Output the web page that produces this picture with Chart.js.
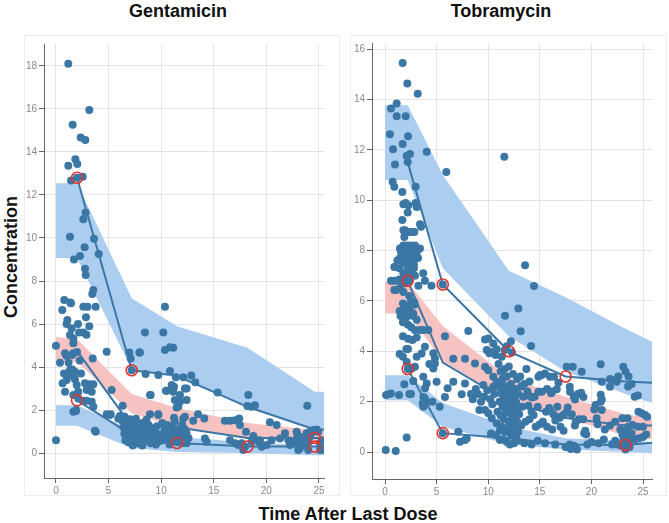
<!DOCTYPE html>
<html>
<head>
<meta charset="utf-8">
<script src="https://cdn.jsdelivr.net/npm/chart.js@4/dist/chart.umd.min.js"></script>
<style>
  html, body { margin: 0; padding: 0; background: #ffffff; }
  body { width: 669px; height: 523px; position: relative; overflow: hidden; font-family: "Liberation Sans", Arial, sans-serif; }
  .frame { position: absolute; border: 1px solid #ededed; box-sizing: border-box; }
  canvas { position: absolute; }
  .ttl { position: absolute; font-weight: bold; font-size: 18px; color: #111; text-align: center; line-height: 20px; white-space: nowrap; }
</style>
</head>
<body>
<div class="frame" style="left:24px;top:35px;width:316px;height:461px;"></div>
<div class="frame" style="left:350px;top:35px;width:317px;height:461px;"></div>
<canvas id="gent" width="316" height="461" style="left:24px;top:35px;"></canvas>
<canvas id="tobra" width="317" height="461" style="left:350px;top:35px;"></canvas>
<div class="ttl" style="left:78px;top:1px;width:200px;">Gentamicin</div>
<div class="ttl" style="left:401px;top:1px;width:200px;">Tobramycin</div>
<div class="ttl" style="left:-89px;top:247px;width:200px;transform:rotate(-90deg);">Concentration</div>
<div class="ttl" style="left:198px;top:504px;width:300px;">Time After Last Dose</div>
<script>
// ---------------- Gentamicin ----------------
const gentBandTime = [0, 2.0, 7.2, 11.5, 18.2, 24.6, 25.48];
const gentHiUpper  = [12.55, 12.55, 7.2, 5.9, 4.9, 2.85, 2.85];
const gentHiLower  = [9.07, 9.07, 3.9, 3.5, 2.15, 1.05, 1.05];
const gentMedUpper = [5.4, 5.3, 2.75, 2.1, 1.4, 1.07, 1.07];
const gentMedLower = [4.2, 4.25, 1.85, 1.2, 0.7, 0.47, 0.47];
const gentLoUpper  = [2.22, 2.22, 1.07, 0.75, 0.5, 0.35, 0.35];
const gentLoLower  = [1.27, 1.27, 0.23, 0.05, 0.0, -0.1, -0.1];

const gentLineTime = [2.0, 7.2, 11.5, 18.2, 24.6, 25.48];
const gentP95 = [12.8, 3.85, 3.6, 2.15, 1.1, 1.1];
const gentP50 = [4.75, 1.25, 1.2, 0.7, 0.7, 0.7];
const gentP05 = [2.45, 0.85, 0.47, 0.3, 0.3, 0.3];
const gentFlagged = [[2.0,12.8],[7.2,3.85],[2.0,2.45],[11.5,0.47],[18.2,0.3],[24.6,0.7],[24.6,0.3]];

const gentObs = [
 [1.17,18.1],[3.17,15.95],[1.58,15.26],[2.35,14.67],[2.79,14.56],[1.84,13.66],[1.17,13.36],[2.03,13.44],[1.43,12.67],[2.0,12.8],
 [2.54,12.85],[2.82,11.18],[2.6,10.87],[1.33,10.06],[3.61,9.97],[2.72,9.57],[2.28,9.16],[4.06,9.26],[1.71,9.0],[2.76,8.57],
 [2.82,8.28],[3.55,7.58],[3.45,7.4],[0.79,7.12],[0.6,6.65],[1.43,6.96],[1.35,7.0],[2.6,6.8],[3.0,6.8],[3.77,6.8],
 [2.85,6.31],[1.08,6.19],[1.01,6.0],[2.09,6.0],[3.17,5.9],[1.49,5.8],[2.19,5.6],[2.6,5.6],[2.9,5.5],[1.33,5.49],
 [1.65,5.33],[8.46,5.6],[10.2,5.6],[10.36,6.8],[0,4.99],[1.65,5.1],[6.97,4.67],[7.92,4.68],[4.82,4.71],[10.36,4.79],
 [10.84,4.92],[11.15,4.9],[7.1,4.4],[3.49,4.4],
 [0.38,4.2],[0.86,4.64],[1.01,4.51],[1.52,4.56],[1.65,4.64],[0.76,3.7],[0.63,3.24],[1.33,3.86],[1.55,3.89],[1.8,3.78],
 [1.24,3.63],[1.65,3.63],[2.38,3.7],[1.01,3.4],[0.86,2.85],[1.8,3.43],[1.97,3.16],[2.12,2.85],[2.76,3.24],[3.17,3.2],
 [3.55,3.2],[2.92,2.93],[3.4,2.85],[1.65,2.7],[2.12,2.54],[2.6,2.43],[2.92,2.43],[3.4,2.39],[1.65,1.92],[1.9,1.95],
 [3.7,1.04],[0,0.6],[2.0,4.7],[2.25,4.3],[3.55,2.15],[1.2,4.2],[1.9,2.0],
 [7.2,3.85],[10.84,3.81],[9.73,3.63],[8.52,3.67],[10.52,2.9],[11.15,2.96],[11.22,3.08],[11.79,2.7],[11.4,3.52],[12.1,3.52],
 [12.86,3.61],[13.24,3.29],[12.42,3.0],[11.79,2.39],[11.47,2.12],[9.0,2.7],[15.37,2.82],[18.28,2.7],[18.19,2.19],[18.6,2.15],
 [18.92,2.22],[23.89,2.2],[5.29,2.93],[6.34,2.2],[4.82,1.81],[5.2,1.81],[8.94,1.81],[9.73,1.81],[11.22,1.64],[12.1,1.61],
 [13.05,1.5],[13.5,1.81],[12.26,1.69],[14.1,1.61],[12.26,1.1],[11.8,0.92],[12.1,0.68],[12.42,0.45],[11.95,0.45],[14.16,0.68],
 [14.32,0.53],[16.06,1.5],[16.54,1.5],[17.02,1.53],[17.42,1.61],[17.49,1.3],[18.06,0.99],[18.76,0.79],[19.39,0.6],[20.34,1.43],
 [20.98,1.3],[21.77,0.92],[22.88,0.99],[22.94,0.84],[23.83,0.92],[24.14,0.99],[24.46,1.07],[24.78,1.1],[22.1,0.6],[22.9,0.5],
 [23.2,0.3],[23.7,0.37],[24.0,0.5],[23.03,0.14],[25.1,0.14],[25.3,0.6],
 [16.54,0.6],[17.02,0.45],[17.33,0.37],[17.65,0.45],[17.81,0.14],[17.97,0.29],[18.6,0.53],[19.07,0.6],[19.39,0.45],[19.55,0.29],
 [20.03,0.37],[20.5,0.6],[21.29,0.68],[22.24,0.37],[22.72,0.53],[23.19,0.76],[23.35,0.45],[23.67,0.37],[23.83,0.6],[24.14,0.76],
 [24.3,0.92],[24.62,1.07],[24.94,0.99],[23.19,0.22],[23.98,0.14],[25.1,0.45],[25.26,0.14],
 [5.92,1.61],[6.08,1.72],[5.13,1.77],[7.03,1.57],[7.5,1.5],[8.94,2.7],[9.73,1.77],[10.46,2.9],[11.0,3.16],[11.15,2.85],
 [11.3,2.47],[11.63,2.16],[12.26,3.0],[12.42,2.47],[7.98,4.67],[3.77,0.99],
 [6.3,1.5],[6.4,1.2],[6.5,0.9],[6.6,0.6],[6.7,1.35],[6.8,1.0],[6.9,0.5],[7.0,0.75],[7.1,1.15],[7.2,0.45],
 [7.3,0.9],[7.4,1.3],[7.5,0.6],[7.6,1.05],[7.7,0.8],[7.8,0.45],[7.9,1.2],[8.0,0.65],[8.1,0.95],[8.2,1.4],
 [8.3,0.5],[8.4,0.8],[8.5,1.1],[8.7,0.6],[8.8,1.3],[8.9,0.9],[9.0,0.45],[9.2,1.15],[9.3,0.7],[9.5,0.95],
 [9.6,1.25],[9.8,0.55],[9.9,0.85],[10.1,1.4],[10.2,0.6],[10.3,1.05],[10.5,0.75],[10.6,1.3],[10.8,0.5],[10.9,0.9],
 [11.0,1.2],[11.1,0.65],[11.3,1.45],[11.4,0.85],[11.5,0.5],[11.6,1.1],[11.8,0.75],[12.0,1.3],[12.2,0.55],[12.4,0.95],
 [12.6,0.7],[6.9,1.5],[7.6,1.6],[8.6,1.55],[6.5,1.7],[7.3,0.35],[8.2,0.35],[9.5,0.4],[10.8,0.4]
];

// ---------------- Tobramycin ----------------
const tobBandTime = [0, 2.2, 5.6, 12.0, 17.5, 23.3, 25.87];
const tobHiUpper  = [13.77, 13.77, 11.0, 7.2, 6.15, 4.9, 4.38];
const tobHiLower  = [10.8, 10.8, 7.3, 4.6, 3.2, 2.3, 1.95];
const tobMedUpper = [6.76, 6.76, 5.0, 2.95, 2.2, 1.5, 1.35];
const tobMedLower = [5.5, 5.5, 3.6, 2.05, 1.35, 0.65, 0.5];
const tobLoUpper  = [3.05, 3.05, 1.95, 1.0, 0.55, 0.45, 0.4];
const tobLoLower  = [2.06, 2.06, 1.0, 0.3, 0.1, 0.0, -0.05];

const tobLineTime = [2.2, 5.6, 12.0, 17.5, 23.3, 25.87];
const tobP95 = [11.5, 6.65, 4.0, 3.0, 2.8, 2.75];
const tobP50 = [6.8, 3.55, 2.0, 1.35, 1.05, 1.05];
const tobP05 = [3.3, 0.75, 0.55, 0.3, 0.28, 0.37];
const tobFlagged = [[2.2,6.8],[2.2,3.3],[5.6,6.65],[5.6,0.75],[12.0,4.0],[17.5,3.0],[23.3,0.28]];

const tobObs = [
 [1.71,15.45],[2.16,14.63],[3.17,14.23],[1.13,13.84],[0.58,13.64],[1.13,13.33],[2.0,13.33],[0.48,12.62],[2.23,12.54],[1.71,12.23],
 [0.78,12.02],[4.04,11.92],[2.1,11.75],[2.42,11.83],[2.2,11.52],[0.97,11.42],[5.94,11.12],[11.56,11.72],[0.74,10.73],[0.9,10.53],
 [2.97,10.53],[1.68,10.32],[1.78,9.84],[2.0,9.89],[2.26,9.8],[2.97,9.89],[3.07,9.73],[2.2,9.51],[1.68,9.21],[3.39,9.04],
 [3.49,8.94],[1.78,8.81],[1.94,8.81],[2.26,8.74],[2.58,8.74],[2.84,8.74],[1.87,8.54],[1.78,8.2],[2.1,8.2],[2.52,8.2],
 [2.9,8.2],[1.45,8.08],[3.39,8.08],[1.87,7.93],[2.3,7.93],[2.7,7.93],[3.07,7.93],[1.45,7.7],[1.8,7.7],[2.6,7.7],
 [2.94,7.7],[3.2,7.7],
 [1.55,7.95],[1.97,7.95],[2.3,7.8],[2.62,7.85],[2.94,7.75],[1.2,7.6],[1.7,7.55],[2.0,7.5],[2.5,7.55],[2.8,7.45],
 [0.9,7.35],[1.4,7.3],[2.2,7.3],[2.8,7.3],[1.78,7.1],[2.3,7.0],[2.6,7.1],[2.9,7.0],[3.7,7.1],[1.4,6.85],
 [1.65,6.75],[1.9,6.7],[2.07,6.85],[2.35,6.8],[0.58,6.8],[0.9,6.8],[1.23,6.8],[3.23,6.6],[3.87,6.8],[4.5,6.6],
 [5.6,6.65],[0.9,6.43],[1.07,6.43],[1.45,6.5],[1.78,6.35],[2.36,6.2],[2.52,6.0],[2.84,5.95],[1.74,5.9],[1.9,5.8],
 [2.36,5.8],[2.84,5.85],[1.42,5.6],[1.74,5.55],[2.07,5.5],[2.4,5.6],[2.74,5.5],[1.5,5.4],[2.07,5.35],[2.74,5.4],
 [3.07,5.25],[1.74,5.15],[2.23,5.05],[2.55,4.95],[2.9,4.85],[3.39,4.85],[3.71,4.85],[4.2,4.85],[1.74,4.6],[2.23,4.5],
 [2.65,4.45],[3.07,4.55],
 [1.42,3.89],[1.74,3.78],[2.07,4.09],[2.23,4.09],[2.1,3.58],[3.07,3.78],[3.55,3.91],[3.87,4.18],[2.58,3.32],[2.9,3.39],
 [2.2,3.3],[3.71,2.99],[4.04,2.72],[3.71,2.19],[3.87,2.13],[3.65,1.93],[3.71,1.8],[4.84,3.52],[4.68,3.32],[5.0,2.79],
 [4.68,3.92],[4.84,3.72],[5.81,4.6],[5.81,2.19],[6.07,2.53],[6.62,3.7],[7.75,3.7],[8.72,3.52],[6.62,2.79],[7.75,2.72],
 [8.33,2.3],[7.43,2.29],[8.07,4.81],[9.69,4.47],[10.17,3.98],[9.69,3.39],[10.01,3.25],[10.49,2.99],[10.82,2.79],[11.31,2.79],
 [9.53,2.66],[10.49,2.59],[9.14,1.67],[9.69,1.67],[10.01,1.54],[10.34,1.34],[10.82,1.14],[11.14,0.87],[10.76,0.67],[11.14,0.48],
 [7.1,0.81],[7.27,0.41],[7.75,0.48],[7.92,0.54],[10.27,0.74],[2.1,0.58],[0.07,0.08],[1.04,0.04],[0.1,2.26],[0.42,2.3],
 [0.58,2.32],[1.36,2.26],[2.36,2.3],[2.52,2.3],[1.87,2.69],[2.74,2.82],[3.88,2.53],[5.6,0.75],
 [13.57,7.42],[14.44,6.59],[11.63,5.41],[12.92,5.7],[13.15,4.8],[14.15,4.21],[10.01,4.51],[10.49,4.31],[9.85,4.05],[10.11,3.92],
 [10.82,4.08],[11.31,3.78],[11.8,4.2],[12.2,4.4],[11.6,4.05],[12.3,3.95],
 [14.86,2.99],[15.18,3.06],[15.99,2.99],[16.38,2.99],[15.7,2.5],[16.2,2.4],[16.8,2.75],[14.05,2.22],[14.22,2.17],[13.9,1.84],
 [14.2,1.6],[14.4,1.47],[15.6,1.6],[16.0,1.65],[16.3,1.5],[16.6,1.4],[16.9,1.35],[17.2,1.45],[17.6,3.39],[18.19,3.39],
 [19.06,3.19],[17.9,2.59],[18.3,2.2],[18.7,2.3],[19.0,2.35],[17.7,1.77],[18.1,1.5],[18.4,1.05],[18.5,1.2],[18.8,1.3],
 [19.2,1.3],[19.3,0.75],[19.5,0.7],[19.4,0.85],[17.7,0.21],[18.0,0.12],[18.4,0.21],[20.9,3.49],[20.9,2.27],[20.9,2.0],
 [20.4,1.87],[21.8,2.9],[22.3,2.85],[22.6,3.0],[23.09,3.39],[23.3,3.2],[23.6,3.0],[23.55,2.6],[23.9,2.7],[24.2,2.2],
 [24.5,2.25],[22.45,2.79],[21.0,2.79],[21.8,2.59],[15.02,3.06],[15.5,3.12],[14.86,2.39],[15.18,2.39],[14.5,2.2],[16.64,2.49],
 [16.09,2.33],[17.93,2.39],[18.41,2.09],[19.22,2.19],[20.28,1.69],[21.0,2.09],[21.0,1.67],[20.51,1.34],[24.55,1.6],[24.87,1.54],
 [25.2,1.47],[25.4,1.4],[23.0,1.34],[23.5,1.34],[24.0,1.07],[24.5,1.0],[25.0,1.0],[22.3,1.2],[21.8,1.05],[21.3,0.9],
 [20.6,1.1],
 [22.8,0.9],[23.0,0.7],[23.1,0.5],[23.2,0.3],[23.3,0.1],[23.4,0.6],[23.5,0.85],[23.6,0.4],[23.7,0.2],[23.8,0.55],
 [23.9,0.75],[22.9,0.25],[23.55,1.0],[24.2,0.5],[24.6,0.55],[25.0,0.6],[25.3,0.7],[22.0,0.3],[22.3,0.45],[22.5,0.3],
 [21.2,0.5],[20.7,0.35],[20.0,0.4],[19.6,0.3],[18.6,0.1],[18.3,0.25],[17.9,0.3],[17.5,0.2],[16.5,0.3],[15.5,0.35],
 [14.8,0.45],[14.2,0.3],[13.5,0.35],[12.8,0.45],
 [13.2,1.05],[13.6,1.2],[14.0,1.3],[14.6,1.0],[15.0,1.1],[15.3,1.2],[15.7,1.0],[16.2,0.9],[16.5,1.25],[17.0,1.0],
 [17.3,0.85],[15.9,1.75],[16.7,1.8],[17.5,1.55],[13.3,1.8],[14.8,1.8],
 [10.7,3.85],[11.0,3.5],[11.2,3.2],[11.4,2.9],[11.6,3.3],[11.8,3.0],[12.0,3.4],[12.2,2.7],[12.4,3.1],[12.6,2.5],
 [12.8,2.9],[11.0,2.6],[11.3,2.4],[11.5,2.2],[11.7,2.6],[11.9,2.35],[12.1,2.1],[12.3,2.45],[12.5,2.2],[12.7,2.0],
 [12.9,2.3],[11.1,2.0],[11.4,1.8],[11.6,1.95],[11.8,1.7],[12.0,1.85],[12.2,1.6],[12.4,1.75],[12.6,1.5],[12.8,1.7],
 [10.9,1.6],[11.2,1.45],[11.5,1.3],[11.7,1.55],[12.0,1.2],[12.3,1.35],[12.5,1.05],[12.8,1.2],[11.3,1.0],[11.6,0.8],
 [11.9,0.95],[12.2,0.7],[12.4,0.85],[12.7,0.6],[11.4,0.5],[11.8,0.4],[12.1,0.3],[12.5,0.35],[12.9,0.8],[13.2,2.6],
 [13.4,2.2],[13.1,3.0],[13.5,2.7],[13.0,1.5],[10.6,2.3],[10.4,1.9],[10.2,2.1],[9.9,2.45],[9.6,2.2],[9.3,2.0],
 [9.0,2.3],[8.8,2.5],[8.5,2.1],[13.8,2.4],[14.0,2.8],[13.7,3.3],[4.3,3.5],[4.6,2.0],[4.0,1.95],[5.3,1.8]
];

// ---------------- styling ----------------
const POINT = '#3b77a5';
const BLUE_BAND = '#aacdf0';
const RED_BAND = '#f7c2c2';
const FLAG = '#e3342d';

function xy(xs, ys) { return xs.map((x, i) => ({x: x, y: ys[i]})); }
function pairs(arr) { return arr.map(p => ({x: p[0], y: p[1]})); }

function edge(data, fillColor, fillPrev) {
  return {
    data: data, showLine: true, pointRadius: 0, borderWidth: 0,
    borderColor: 'rgba(0,0,0,0)', backgroundColor: fillColor,
    fill: fillPrev ? '-1' : false, tension: 0
  };
}
function line(data) {
  return { data: data, showLine: true, pointRadius: 0, borderWidth: 2, borderColor: POINT, fill: false, tension: 0 };
}

function makePanel(id, p) {
  const datasets = [
    { data: pairs(p.flagged), showLine: false, pointRadius: 5.5, pointBorderWidth: 1.6,
      pointBorderColor: FLAG, pointBackgroundColor: 'rgba(0,0,0,0)', borderColor: FLAG, backgroundColor: 'rgba(0,0,0,0)' },
    line(xy(p.lineTime, p.p95)),
    line(xy(p.lineTime, p.p50)),
    line(xy(p.lineTime, p.p05)),
    { data: pairs(p.obs), showLine: false, pointRadius: 4, pointBorderWidth: 0,
      pointBackgroundColor: POINT, backgroundColor: POINT, borderColor: POINT },
    edge(xy(p.bandTime, p.hiU), BLUE_BAND, false),
    edge(xy(p.bandTime, p.hiL), BLUE_BAND, true),
    edge(xy(p.bandTime, p.medU), RED_BAND, false),
    edge(xy(p.bandTime, p.medL), RED_BAND, true),
    edge(xy(p.bandTime, p.loU), BLUE_BAND, false),
    edge(xy(p.bandTime, p.loL), BLUE_BAND, true)
  ];
  const tickFont = { family: '"Liberation Sans", Arial, sans-serif', size: 10 };
  return new Chart(document.getElementById(id), {
    type: 'scatter',
    data: { datasets: datasets },
    options: {
      responsive: false, animation: false, devicePixelRatio: 1,
      layout: { padding: p.pad },
      plugins: { legend: { display: false }, tooltip: { enabled: false }, filler: { drawTime: 'beforeDatasetsDraw' } },
      scales: {
        x: {
          type: 'linear', min: p.xMin, max: p.xMax,
          afterFit: s => { s.height = p.xH; },
          ticks: { stepSize: 5, includeBounds: false, color: '#8a8a8a', font: tickFont, padding: 2, maxRotation: 0 },
          grid: { color: '#e4e4e4', lineWidth: 1, tickLength: 5, tickColor: '#666' },
          border: { color: '#666', width: 1 }
        },
        y: {
          type: 'linear', min: p.yMin, max: p.yMax,
          afterFit: s => { s.width = p.yW; },
          ticks: { stepSize: 2, includeBounds: false, color: '#8a8a8a', font: tickFont, padding: 2 },
          grid: { color: '#e4e4e4', lineWidth: 1, tickLength: 5, tickColor: '#666' },
          border: { color: '#666', width: 1 }
        }
      }
    }
  });
}

makePanel('gent', {
  obs: gentObs, flagged: gentFlagged,
  lineTime: gentLineTime, p95: gentP95, p50: gentP50, p05: gentP05,
  bandTime: gentBandTime, hiU: gentHiUpper, hiL: gentHiLower, medU: gentMedUpper, medL: gentMedLower, loU: gentLoUpper, loL: gentLoLower,
  xMin: -1.14, xMax: 25.48, yMin: -1.16, yMax: 19.02,
  pad: { left: 0, top: 9, right: 16, bottom: 0 }, yW: 20, xH: 18
});
makePanel('tobra', {
  obs: tobObs, flagged: tobFlagged,
  lineTime: tobLineTime, p95: tobP95, p50: tobP50, p05: tobP05,
  bandTime: tobBandTime, hiU: tobHiUpper, hiL: tobHiLower, medU: tobMedUpper, medL: tobMedLower, loU: tobLoUpper, loL: tobLoLower,
  xMin: -1.26, xMax: 25.87, yMin: -1.07, yMax: 16.24,
  pad: { left: 0, top: 8, right: 15, bottom: 0 }, yW: 22, xH: 17
});
</script>
</body>
</html>
